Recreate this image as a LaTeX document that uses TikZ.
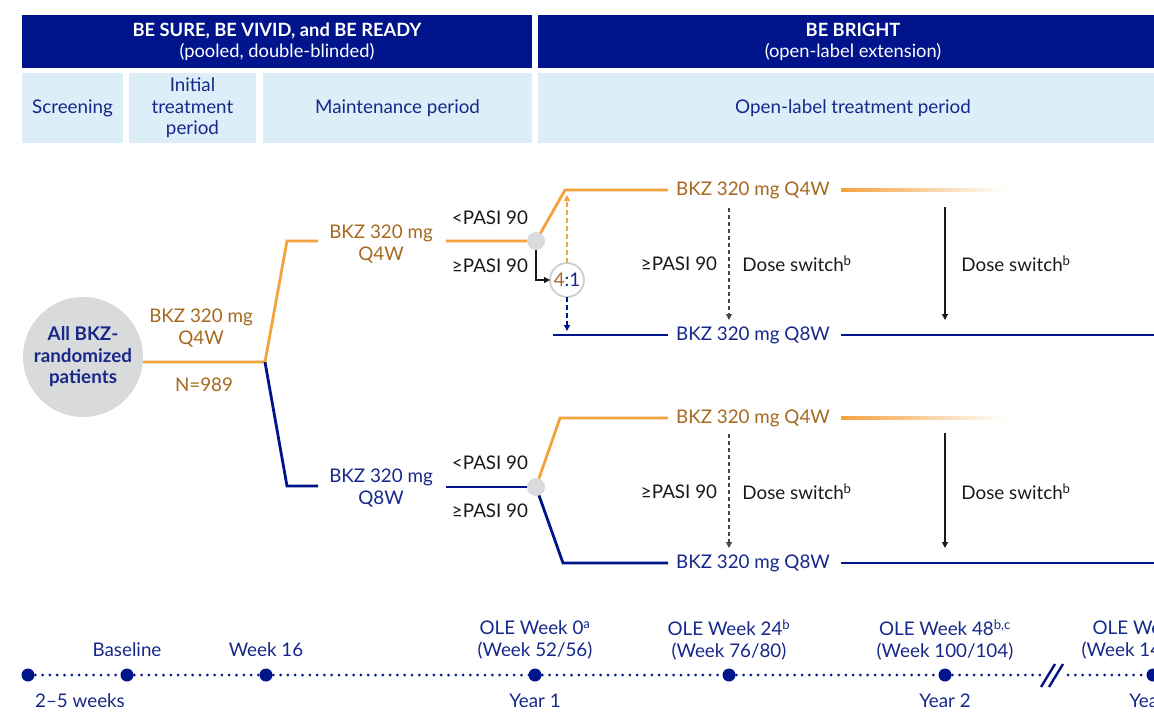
\documentclass[tikz,border=0pt]{standalone}
\usepackage{fontspec}
\setmainfont{Lato}
\usetikzlibrary{arrows.meta,calc}
\definecolor{navy}{HTML}{00148C}
\definecolor{navytxt}{HTML}{16288A}
\definecolor{lightbox}{HTML}{DCEEF7}
\definecolor{orng}{HTML}{F4A23B}
\definecolor{orngtxt}{HTML}{A6691F}
\definecolor{dotgray}{HTML}{D9DADB}
\definecolor{ringgray}{HTML}{CFCFCF}
\definecolor{ink}{HTML}{1A1A1A}
\begin{document}
\begin{tikzpicture}[x=1pt,y=-1pt,
  every node/.style={inner sep=0pt, outer sep=0pt},
  fnt/.style={font=\fontsize{18.8}{21.5}\selectfont},
  hdrbox/.style={fill=navy, text=white, align=center, font=\fontsize{18.3}{21}\selectfont, minimum height=53, anchor=north west},
  perbox/.style={fill=lightbox, text=navytxt, align=center, fnt, minimum height=70, anchor=north west},
  oline/.style={draw=orng, line width=2.8},
  bline/.style={draw=navy, line width=2.8},
  otxt/.style={text=orngtxt, align=center, fnt},
  btxt/.style={text=navytxt, align=center, fnt},
  ktxt/.style={text=ink, align=center, fnt},
  gdot/.style={circle, fill=dotgray, minimum size=18},
  tdot/.style={circle, fill=navy, minimum size=13},
  tline/.style={draw=navy, line width=3, dash pattern=on 0pt off 7.3pt, line cap=round},
  tip/.style={-{Triangle[width=6pt,length=6pt]}},
  karrow/.style={draw=ink, line width=1.1, tip},
  kdash/.style={draw=ink!80, line width=1.1, dash pattern=on 4pt off 3pt, tip},
  odash/.style={draw=orng, line width=1.3, dash pattern=on 5pt off 3pt, tip},
  bdash/.style={draw=navy, line width=1.3, dash pattern=on 5pt off 3pt, tip}
]
\clip (0,0) rectangle (1154,712);
\fill[white] (0,0) rectangle (1154,712);

% headers
\node[hdrbox, minimum width=510] (h1) at (22,15) {\textbf{BE SURE, BE VIVID, and BE READY}\\(pooled, double-blinded)};
\node[hdrbox, minimum width=630] (h2) at (538,15) {\textbf{BE BRIGHT}\\(open-label extension)};
\node[perbox, minimum width=101] (s1) at (22,73) {Screening};
\node[perbox, minimum width=127] (s2) at (129,73) {Initial\\treatment\\period};
\node[perbox, minimum width=269] (s3) at (263,73) {Maintenance period};
\node[perbox, minimum width=630] (s4) at (538,73) {Open-label treatment period};

% coordinates
\coordinate (j0) at (265,362);
\coordinate (u1) at (287,241); \coordinate (u2) at (318,241);
\coordinate (l1) at (287,486); \coordinate (l2) at (318,486);
\coordinate (ua) at (446,241); \coordinate (d1c) at (536,241);
\coordinate (uo1) at (565,190); \coordinate (uo2) at (668,190);
\coordinate (ug1) at (841,190);
\coordinate (ub1) at (553,335); \coordinate (ub2) at (668,335);
\coordinate (ub3) at (841,335); \coordinate (ub4) at (1160,335);
\coordinate (la) at (446,487); \coordinate (d2c) at (536,487);
\coordinate (lo1) at (560,418); \coordinate (lo2) at (668,418);
\coordinate (lg1) at (841,418);
\coordinate (lb1) at (563,563); \coordinate (lb2) at (668,563);
\coordinate (lb3) at (841,563); \coordinate (lb4) at (1160,563);

% left part
\node[circle, fill=dotgray, minimum size=120, text=navytxt, align=center, font=\fontsize{18.8}{21.5}\selectfont\bfseries] (all) at (83,357) {All BKZ-\\randomized\\patients};
\draw[oline] (all.east |- j0) -- (j0) -- (u1) -- (u2);
\draw[bline] (j0) -- (l1) -- (l2);
\node[otxt] (n1) at (201,328) {BKZ 320 mg\\Q4W};
\node[otxt] (n2) at (204,385) {N=989};
\node[otxt] (mq4) at (381,244) {BKZ 320 mg\\Q4W};
\node[btxt] (mq8) at (381,488) {BKZ 320 mg\\Q8W};

% upper branch
\draw[oline] (ua) -- (d1c) -- (uo1) -- (uo2);
\node[otxt] (uq4) at (753,190) {BKZ 320 mg Q4W};
\shade[left color=orng, right color=white] ($(ug1)+(0,-1.4)$) rectangle (1007,191.4);
\draw[bline] (ub1) -- (ub2);
\node[btxt] (uq8) at (753,335) {BKZ 320 mg Q8W};
\draw[bline] (ub3) -- (ub4);
\node[gdot] (d1) at (d1c) {};
\node[circle, draw=ringgray, line width=1.8, fill=white, minimum size=34, fnt] (r41) at (567,280) {{\color{orngtxt}4}{\color{navytxt}:1}};
\draw[karrow] (d1.south) |- (r41.west);
\coordinate (oat) at (567,195);
\coordinate (bat) at (567,331);
\draw[odash] (r41.north) -- (oat);
\draw[bdash] (r41.south) -- (bat);
\node[ktxt] (p1) at (490,218) {<PASI 90};
\node[ktxt] (p2) at (490,266) {≥PASI 90};

% lower branch
\draw[bline] (la) -- (d2c);
\draw[oline] (d2c) -- (lo1) -- (lo2);
\draw[bline] (d2c) -- (lb1) -- (lb2);
\node[otxt] (lq4) at (753,418) {BKZ 320 mg Q4W};
\shade[left color=orng, right color=white] ($(lg1)+(0,-1.4)$) rectangle (1007,419.4);
\node[btxt] (lq8) at (753,563) {BKZ 320 mg Q8W};
\draw[bline] (lb3) -- (lb4);
\node[gdot] (d2) at (d2c) {};
\node[ktxt] (p3) at (490,463) {<PASI 90};
\node[ktxt] (p4) at (490,511) {≥PASI 90};

% dose switch arrows
\coordinate (a1s) at (729,208); \coordinate (a1e) at (729,320);
\coordinate (a2s) at (945,207); \coordinate (a2e) at (945,320);
\coordinate (a3s) at (729,434); \coordinate (a3e) at (729,548);
\coordinate (a4s) at (945,433); \coordinate (a4e) at (945,548);
\draw[kdash] (a1s) -- (a1e);
\draw[karrow] (a2s) -- (a2e);
\draw[kdash] (a3s) -- (a3e);
\draw[karrow] (a4s) -- (a4e);
\node[ktxt] (p5) at (679,264) {≥PASI 90};
\node[ktxt] (p6) at (679,492) {≥PASI 90};
\node[ktxt] (ds1) at (797,264) {Dose switch\textsuperscript{b}};
\node[ktxt] (ds2) at (1016,264) {Dose switch\textsuperscript{b}};
\node[ktxt] (ds3) at (797,492) {Dose switch\textsuperscript{b}};
\node[ktxt] (ds4) at (1016,492) {Dose switch\textsuperscript{b}};

% timeline
\coordinate (t0) at (28,675); \coordinate (t1) at (127,675);
\coordinate (t2) at (266,675); \coordinate (t3) at (535,675);
\coordinate (t4) at (729,675); \coordinate (t5) at (945,675);
\coordinate (t6) at (1153,675);
\coordinate (bk1) at (1040,675); \coordinate (bk2) at (1068,675);
\draw[tline] (t0) -- (t1);
\draw[tline] (t1) -- (t2);
\draw[tline] (t2) -- (t3);
\draw[tline] (t3) -- (t4);
\draw[tline] (t4) -- (t5);
\draw[tline] (t5) -- (bk1);
\draw[tline] (bk2) -- (t6);
\draw[draw=navy, line width=2.4] (1041,687) -- (1055,664);
\draw[draw=navy, line width=2.4] (1049,687) -- (1063,664);
\foreach \i in {0,...,6} { \node[tdot] (td\i) at (t\i) {}; }
\node[btxt] (b0) at (127,650) {Baseline};
\node[btxt] (w16) at (266,650) {Week 16};
\node[btxt] (o0) at (535,640) {OLE Week 0\textsuperscript{a}\\(Week 52/56)};
\node[btxt] (o24) at (729,640) {OLE Week 24\textsuperscript{b}\\(Week 76/80)};
\node[btxt] (o48) at (945,640) {OLE Week 48\textsuperscript{b,c}\\(Week 100/104)};
\node[btxt] (o96) at (1150,640) {OLE Week 96\\(Week 148/152)};
\node[btxt] (y0) at (80,701) {2--5 weeks};
\node[btxt] (y1) at (535,701) {Year 1};
\node[btxt] (y2) at (945,701) {Year 2};
\node[btxt] (y3) at (1155,701) {Year 3};
\end{tikzpicture}
\end{document}
